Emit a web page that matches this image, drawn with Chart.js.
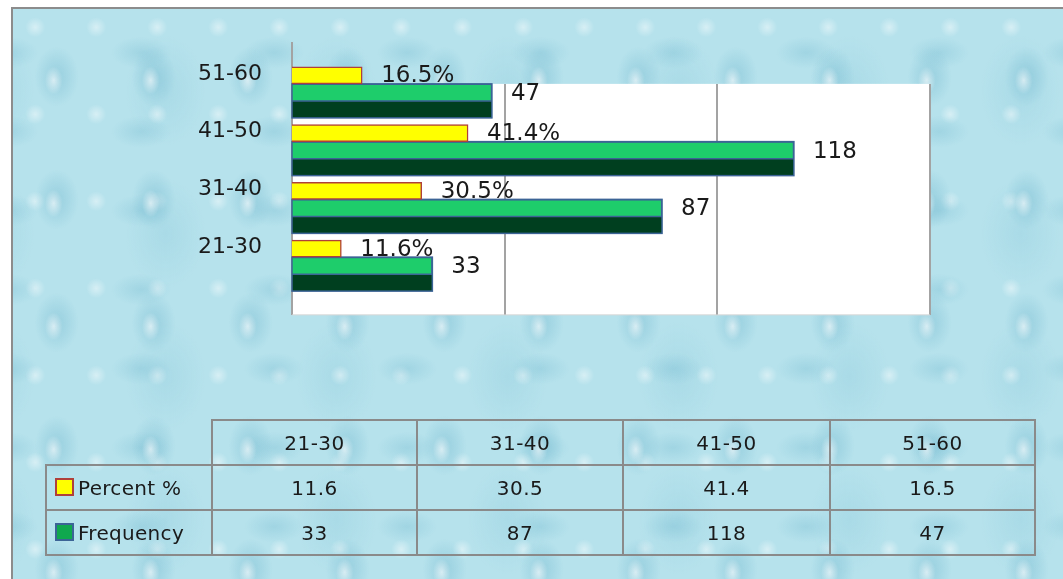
<!DOCTYPE html>
<html>
<head>
<meta charset="utf-8">
<script src="https://cdn.jsdelivr.net/npm/chart.js@4/dist/chart.umd.min.js"></script>
<style>
  html, body { margin: 0; padding: 0; background: #fff; overflow: hidden; }
  #wrap { position: relative; width: 1063px; height: 579px; overflow: hidden; }
  #frame {
    position: absolute; left: 11px; top: 7px; width: 1100px; height: 620px;
    border-left: 2px solid #8c8c8c; border-top: 2px solid #8c8c8c;
    background-color: #b6e2ec;
    background-image:
      radial-gradient(ellipse 9px 14px at 42% 58%, rgba(255,255,255,.6) 0, rgba(255,255,255,0) 100%),
      radial-gradient(ellipse 22px 30px at 45% 55%, rgba(95,172,198,.35) 0, rgba(95,172,198,.15) 60%, rgba(95,172,198,0) 100%),
      radial-gradient(ellipse 30px 16px at 70% 30%, rgba(110,182,205,.3) 0, rgba(110,182,205,0) 100%),
      radial-gradient(circle 10px at 20% 75%, rgba(255,255,255,.45) 0, rgba(255,255,255,0) 100%),
      radial-gradient(ellipse 40px 55px at 60% 50%, rgba(125,192,212,.22) 0, rgba(125,192,212,0) 100%);
    background-size: 97px 123px, 97px 123px, 133px 79px, 61px 87px, 171px 143px;
    background-position: 0 0, 0 0, 35px 20px, 10px 40px, 50px 10px;
  }
  #chartBox { position: absolute; left: 0; top: 0; width: 1063px; height: 579px; }
  #dataTable {
    position: absolute; left: 45px; top: 419px; border-collapse: collapse;
    font-family: "DejaVu Sans", sans-serif; font-size: 20px; letter-spacing: 0.5px; color: #1a1a1a;
  }
  #dataTable td, #dataTable th {
    border: 2px solid #8a8a8a; padding: 0; text-align: center; font-weight: normal;
  }
  #dataTable tr { height: 45px; }
  #dataTable th.corner { border-top: none; border-left: none; }
  #dataTable td.series { text-align: left; padding-left: 8px; white-space: nowrap; letter-spacing: 0.3px; }
  .sw { display: inline-block; width: 15px; height: 14px; vertical-align: -1px; margin-right: 4px; border: 2px solid; }
</style>
</head>
<body>
<div id="wrap">
  <div id="frame"></div>
  <div id="chartBox"><canvas id="myChart"></canvas></div>
  <table id="dataTable"></table>
</div>
<script>
const labels = ['21-30', '31-40', '41-50', '51-60']
const percentValues = [11.6, 30.5, 41.4, 16.5]
const frequencyValues = [33, 87, 118, 47]
const gridValues = [50, 100, 150]

const yellow = '#ffff00'
const yellowBorder = '#b0403a'
const green = '#1ecd6b'
const darkGreen = '#003f1f'
const greenBorder = '#3c6496'
const fontFamily = '"DejaVu Sans", sans-serif'

// data table under the chart
const table = document.getElementById('dataTable')
const colWidths = [167, 205, 206, 207, 205]
let html = '<tr><th class="corner" style="width:' + (colWidths[0] - 2) + 'px"></th>'
labels.forEach((l, i) => {
  html += '<th style="width:' + (colWidths[i + 1] - 2) + 'px">' + l + '</th>'
})
html += '</tr>'
html += '<tr><td class="series"><span class="sw" style="background:' + yellow + ';border-color:' + yellowBorder + '"></span>Percent %</td>'
percentValues.forEach(v => { html += '<td>' + v + '</td>' })
html += '</tr>'
html += '<tr><td class="series"><span class="sw" style="background:#10a84e;border-color:' + greenBorder + '"></span>Frequency</td>'
frequencyValues.forEach(v => { html += '<td>' + v + '</td>' })
html += '</tr>'
table.innerHTML = html

// white plot wall, grid lines and axis line
const plotBack = {
  id: 'plotBack',
  beforeDatasetsDraw(chart) {
    const ctx = chart.ctx
    const xs = chart.scales.x
    const ys = chart.scales.y
    const x0 = xs.getPixelForValue(0)
    const x1 = xs.getPixelForValue(gridValues[gridValues.length - 1])
    const top = ys.getPixelForValue(labels.length - 1)
    const bottom = ys.getPixelForValue(-1)
    ctx.save()
    ctx.fillStyle = '#ffffff'
    ctx.fillRect(x0, top, x1 - x0, bottom - top)
    ctx.strokeStyle = '#a3a3a3'
    ctx.lineWidth = 2
    gridValues.forEach(v => {
      const x = Math.round(xs.getPixelForValue(v))
      ctx.beginPath()
      ctx.moveTo(x, top)
      ctx.lineTo(x, bottom)
      ctx.stroke()
    })
    ctx.beginPath()
    ctx.moveTo(x0, chart.chartArea.top - 13)
    ctx.lineTo(x0, bottom)
    ctx.stroke()
    ctx.strokeStyle = '#d6d6d6'
    ctx.lineWidth = 1
    ctx.beginPath()
    ctx.moveTo(x0, bottom)
    ctx.lineTo(x1, bottom)
    ctx.stroke()
    ctx.restore()
  }
}

// two tone frequency bars
const twoTone = {
  id: 'twoTone',
  afterDatasetDraw(chart, args) {
    if (args.index !== 1) return
    const ctx = chart.ctx
    ctx.save()
    args.meta.data.forEach(bar => {
      const p = bar.getProps(['x', 'y', 'base', 'height'], true)
      const top = p.y - p.height / 2
      ctx.fillStyle = darkGreen
      ctx.fillRect(p.base, p.y, p.x - p.base, p.height / 2)
      ctx.strokeStyle = greenBorder
      ctx.lineWidth = 1.5
      ctx.strokeRect(p.base, top, p.x - p.base, p.height)
      ctx.beginPath()
      ctx.moveTo(p.base, p.y)
      ctx.lineTo(p.x, p.y)
      ctx.stroke()
    })
    ctx.restore()
  }
}

// value labels
const valueLabels = {
  id: 'valueLabels',
  afterDatasetsDraw(chart) {
    const ctx = chart.ctx
    ctx.save()
    ctx.font = '23px ' + fontFamily
    ctx.fillStyle = '#1a1a1a'
    ctx.textAlign = 'left'
    ctx.textBaseline = 'middle'
    chart.getDatasetMeta(0).data.forEach((bar, i) => {
      ctx.fillText(percentValues[i] + '%', bar.x + 19, bar.y + 1)
    })
    chart.getDatasetMeta(1).data.forEach((bar, i) => {
      ctx.fillText(String(frequencyValues[i]), bar.x + 19, bar.y - 7)
    })
    ctx.restore()
  }
}

const ctx = document.getElementById('myChart')
new Chart(ctx, {
  type: 'bar',
  data: {
    labels: labels,
    datasets: [
      {
        label: 'Percent %',
        data: percentValues,
        backgroundColor: yellow,
        borderColor: yellowBorder,
        borderWidth: 1.5,
        barThickness: 17
      },
      {
        label: 'Frequency',
        data: frequencyValues,
        backgroundColor: green,
        borderColor: greenBorder,
        borderWidth: 1.5,
        barThickness: 34
      }
    ]
  },
  options: {
    indexAxis: 'y',
    responsive: true,
    maintainAspectRatio: false,
    animation: false,
    layout: { padding: { left: 0, right: 133, top: 55, bottom: 293 } },
    scales: {
      x: {
        min: 0,
        max: 150,
        display: false
      },
      y: {
        reverse: true,
        grid: { display: false },
        border: { display: false },
        afterFit(scale) { scale.width = 292 },
        ticks: {
          padding: 22,
          labelOffset: -10,
          color: '#1a1a1a',
          font: { family: fontFamily, size: 22 }
        }
      }
    },
    plugins: {
      legend: { display: false },
      tooltip: { enabled: false }
    }
  },
  plugins: [plotBack, twoTone, valueLabels]
})
</script>
</body>
</html>
